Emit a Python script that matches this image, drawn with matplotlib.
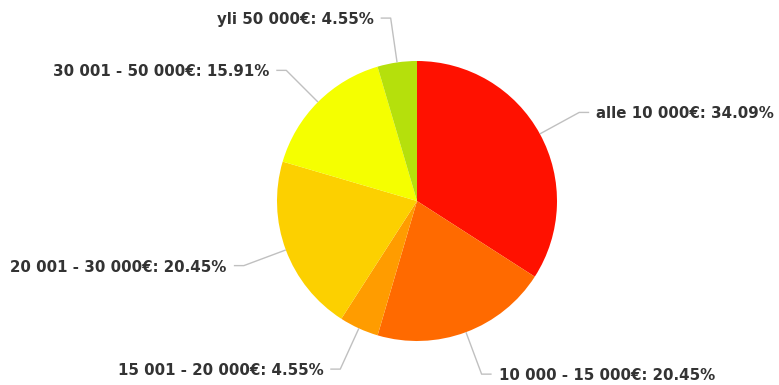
import numpy as np
import matplotlib.pyplot as plt

plt.rcParams["font.family"] = ["DejaVu Sans"]

# tuloluokat ja osuudet (%)
luokat = ["alle 10 000€", "10 000 - 15 000€", "15 001 - 20 000€",
          "20 001 - 30 000€", "30 001 - 50 000€", "yli 50 000€"]
osuudet = [34.09, 20.45, 4.55, 20.45, 15.91, 4.55]
varit = ["#ff1100", "#ff6a00", "#ff9c00", "#fcd000", "#f5ff00", "#b5e00c"]

fig = plt.figure(figsize=(7.79, 3.85), dpi=100)
ax = fig.add_axes([0, 0, 1, 1])

kiilat, _ = ax.pie(osuudet, colors=varit, startangle=90, counterclock=False,
                   radius=1.0, wedgeprops=dict(linewidth=0))

# 1 yksikkö = 140 px, keskipiste kohdassa (417, 201)
px = 1 / 140
ax.set_xlim(-417 * px, (779 - 417) * px)
ax.set_ylim(-(385 - 201) * px, 201 * px)
ax.set_aspect("equal")
ax.axis("off")

R = 1.32  # etäisyys, jossa yhdysviiva taittuu
for w, nimi, arvo in zip(kiilat, luokat, osuudet):
    kulma = np.deg2rad((w.theta1 + w.theta2) / 2)
    x0, y0 = np.cos(kulma), np.sin(kulma)
    xt, yt = R * np.cos(kulma), R * np.sin(kulma)
    suunta = 1 if x0 >= 0 else -1
    ax.plot([x0, xt, xt + suunta * 10 * px], [y0, yt, yt],
            color="#c0c0c0", lw=1, solid_capstyle="butt")
    ax.text(xt + suunta * 17 * px, yt, f"{nimi}: {arvo:.2f}%",
            ha="left" if suunta > 0 else "right", va="center_baseline",
            fontsize=10.8, fontweight="bold", color="#333333")

fig.savefig("out.png", dpi=100)
